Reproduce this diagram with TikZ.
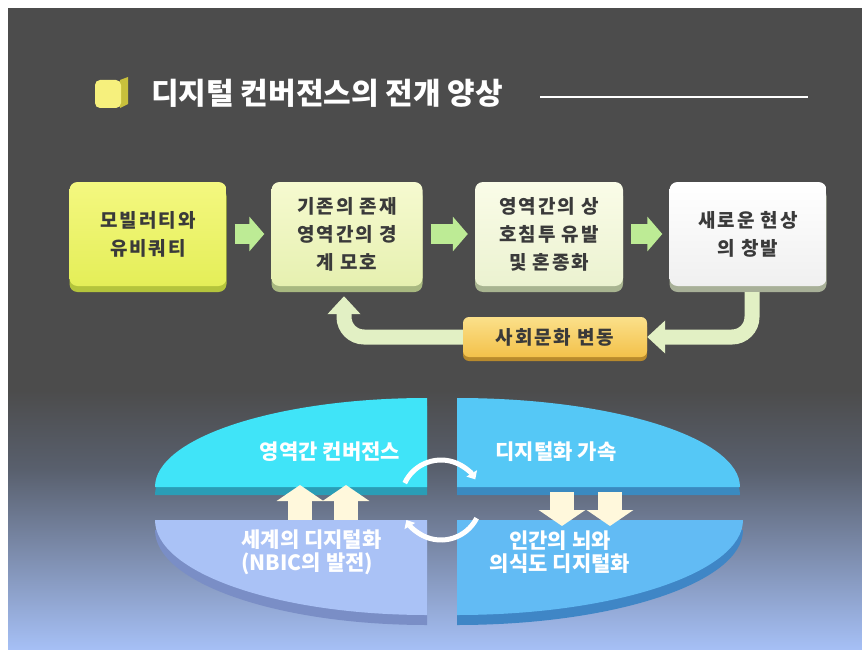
\documentclass[tikz,border=0pt]{standalone}
\usepackage{fontspec}
\setmainfont{Noto Sans CJK KR}
\newfontfamily\boxfont{Noto Sans CJK KR}[LetterSpace=10]
\usetikzlibrary{arrows.meta,calc}
\definecolor{bgdark}{HTML}{4C4C4C}
\definecolor{bgmid}{HTML}{59606E}
\definecolor{bglight}{HTML}{A6C0F6}
\definecolor{txtgray}{HTML}{3A3A3A}
\definecolor{garr}{HTML}{BDEB95}
\definecolor{fbcol}{HTML}{E2F0C4}
\definecolor{qTL}{HTML}{40E4F8}
\definecolor{qTLd}{HTML}{2A9DB6}
\definecolor{qTR}{HTML}{55C8F6}
\definecolor{qTRd}{HTML}{3A8AC0}
\definecolor{qBL}{HTML}{AAC2F6}
\definecolor{qBLd}{HTML}{7A8EC6}
\definecolor{qBR}{HTML}{62BBF4}
\definecolor{qBRd}{HTML}{3F86C6}
\definecolor{cream}{HTML}{FFF8DC}
\definecolor{b1top}{HTML}{F4F880}
\definecolor{b1bot}{HTML}{E4EE58}
\definecolor{b1bev}{HTML}{B4C43C}
\definecolor{b2top}{HTML}{F6FAD0}
\definecolor{b2bot}{HTML}{E6F0B0}
\definecolor{b2bev}{HTML}{A8B880}
\definecolor{b3top}{HTML}{FAFCE8}
\definecolor{b3bot}{HTML}{EBF2D0}
\definecolor{b3bev}{HTML}{A8B490}
\definecolor{b4top}{HTML}{FFFFFF}
\definecolor{b4bot}{HTML}{F0F0F0}
\definecolor{b4bev}{HTML}{A8B098}
\definecolor{soctop}{HTML}{FBE08A}
\definecolor{socbot}{HTML}{F3C14A}
\definecolor{socbev}{HTML}{B88A2C}
\tikzset{
  boxbase/.style={rounded corners=8pt, minimum height=104pt, align=center,
    font=\boxfont\bfseries\fontsize{19}{28}\selectfont, text=txtgray, inner sep=4pt},
  boxc/.style={boxbase, top color=#1top, bottom color=#1bot,
    preaction={fill=#1bev, transform canvas={yshift=-6pt}}},
  socbox/.style={rounded corners=6pt, minimum width=184pt, minimum height=40pt,
    font=\boxfont\bfseries\fontsize{19}{22}\selectfont, text=txtgray,
    top color=soctop, bottom color=socbot,
    preaction={fill=socbev, transform canvas={yshift=-4pt}}},
  garrow/.style={draw=garr, line width=20pt, -{Triangle[length=15pt,width=34pt]},
    shorten <=8pt, shorten >=7pt},
  fb/.style={draw=fbcol, line width=15pt, rounded corners=20pt,
    -{Triangle[length=18pt,width=32pt]}},
  qtext/.style={text=white, font=\bfseries\fontsize{21}{23}\selectfont},
  blockarr/.style={draw=cream, line width=24pt, -{Triangle[length=16pt,width=46pt]}},
  carrow/.style={draw=white, line width=5pt, -{Triangle[length=7pt,width=12pt]}}
}
\begin{document}
\begin{tikzpicture}[x=1pt,y=-1pt]
\useasboundingbox (0,0) rectangle (862,650);
\fill[white] (0,0) rectangle (862,650);
\fill[bgdark] (8,8) rectangle (862,391);
\shade[top color=bgdark, bottom color=bgmid] (8,390) rectangle (862,471);
\shade[top color=bgmid, bottom color=bglight] (8,470) rectangle (862,650);

% title
\fill[yellow!30!olive!70!white] (120,80) -- (128,77) -- (128,104) -- (120,108) -- cycle;
\fill[rounded corners=5pt, yellow!45!white!92!olive] (95,80) -- (121,80) -- (121,108) -- (95,108) -- cycle;
\node[anchor=west, text=white, font=\bfseries\fontsize{30}{32}\selectfont, inner sep=0pt]
  (title) at (151,93) {디지털 컨버전스의 전개 양상};
\coordinate (lineend) at (808,97);
\draw[white, line width=1.6pt] (540,97) -- (lineend);

% top row
\node[boxc=b1, minimum width=157pt] (b1) at (148,234) {모빌러티와\\유비쿼티};
\node[boxc=b2, minimum width=151pt] (b2) at (347,234) {기존의 존재\\영역간의 경\\계 모호};
\node[boxc=b3, minimum width=148pt] (b3) at (549,234) {영역간의 상\\호침투 유발\\및 혼종화};
\node[boxc=b4, minimum width=157pt] (b4) at (748,234) {새로운 현상\\의 창발};
\draw[garrow] (b1) -- (b2);
\draw[garrow] (b2) -- (b3);
\draw[garrow] (b3) -- (b4);

\node[socbox] (soc) at (555,337) {사회문화 변동};
\draw[fb, shorten <=6pt] ([xshift=4pt]b4.south) |- (soc.east);
\draw[fb, shorten >=10pt] (soc.west) -| ([xshift=-3pt]b2.south);

% bottom quadrants
\fill[qTLd] (427,495) -- (155,495) arc[start angle=180, end angle=270, x radius=272, y radius=89] -- cycle;
\fill[qTL] (427,487) -- (155,487) arc[start angle=180, end angle=270, x radius=272, y radius=89] -- cycle;
\fill[qTRd] (457,495) -- (457,406) arc[start angle=270, end angle=360, x radius=283, y radius=89] -- cycle;
\fill[qTR] (457,487) -- (457,398) arc[start angle=270, end angle=360, x radius=283, y radius=89] -- cycle;
\fill[qBLd] (427,530) -- (155,530) arc[start angle=180, end angle=90, x radius=272, y radius=95] -- cycle;
\fill[qBL] (427,520) -- (155,520) arc[start angle=180, end angle=90, x radius=272, y radius=95] -- cycle;
\fill[qBRd] (457,530) -- (743,530) arc[start angle=0, end angle=90, x radius=286, y radius=95] -- cycle;
\fill[qBR] (457,520) -- (743,520) arc[start angle=0, end angle=90, x radius=286, y radius=95] -- cycle;

\node[qtext] (q1) at (330,452) {영역간 컨버전스};
\node[qtext] (q2) at (556,452) {디지털화 가속};
\node[qtext, anchor=west, align=left] (q3) at (238,552) {세계의 디지털화\\(NBIC의 발전)};
\node[qtext, align=center] (q4) at (560,552) {인간의 뇌와\\의식도 디지털화};

% block arrows between the halves
\coordinate (u1s) at (300,520); \coordinate (u1e) at (300,485);
\coordinate (u2s) at (346,520); \coordinate (u2e) at (346,485);
\coordinate (d1s) at (562,492); \coordinate (d1e) at (562,526);
\coordinate (d2s) at (610,492); \coordinate (d2e) at (610,526);
\draw[blockarr] (u1s) -- (u1e);
\draw[blockarr] (u2s) -- (u2e);
\draw[blockarr] (d1s) -- (d1e);
\draw[blockarr] (d2s) -- (d2e);

\coordinate (cc) at (441,500);
\draw[carrow] ([shift={(205:40)}]cc) arc[start angle=205, end angle=329, radius=40];
\draw[carrow] ([shift={(27:40)}]cc) arc[start angle=27, end angle=150, radius=40];
\end{tikzpicture}
\end{document}
